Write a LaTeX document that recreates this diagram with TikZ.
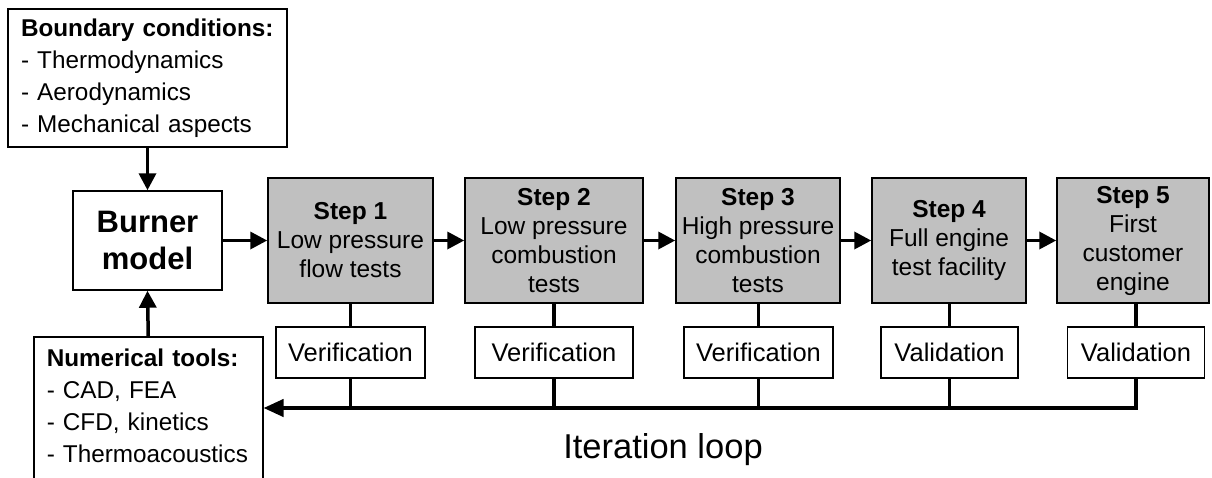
\documentclass[tikz,border=0pt]{standalone}
\usepackage{fontspec}
\setmainfont{Liberation Sans}
\usetikzlibrary{arrows.meta}
\definecolor{stepgray}{RGB}{192,192,192}
\begin{document}
\begin{tikzpicture}[x=1pt,y=-1pt,
  box/.style={draw, line width=1.5pt, inner sep=0pt, align=center},
  stepbox/.style={box, fill=stepgray, minimum height=125pt, font=\fontsize{24.5}{29}\selectfont},
  checkbox/.style={box, fill=white, minimum height=51pt, font=\fontsize{25.5}{29}\selectfont},
  listbox/.style={box, align=left, inner xsep=13pt, font=\fontsize{24.3}{32}\selectfont},
  arr/.style={line width=3.5pt, -{Triangle[length=17pt,width=17pt]}},
  link/.style={line width=3.5pt},
  looparr/.style={line width=4pt, miter limit=10, -{Triangle[length=20pt,width=17pt]}},
]
\clip (0,0) rectangle (1212,477);
\fill[white] (0,0) rectangle (1212,477);

\node[listbox, minimum width=279pt, minimum height=138pt, text width=253pt] (bc) at (147.5,78)
  {\textbf{Boundary conditions:}\\- Thermodynamics\\- Aerodynamics\\- Mechanical aspects};

\node[box, minimum width=149pt, minimum height=99pt, font=\fontsize{31}{37}\selectfont\bfseries] (bm) at (147.5,240.5) {Burner\\model};

\node[stepbox, minimum width=165pt] (s1) at (350.5,240.5) {\textbf{Step 1}\\Low pressure\\flow tests};
\node[stepbox, minimum width=178pt] (s2) at (554,240.5) {\textbf{Step 2}\\Low pressure\\combustion\\tests};
\node[stepbox, minimum width=164pt] (s3) at (758,240.5) {\textbf{Step 3}\\High pressure\\combustion\\tests};
\node[stepbox, minimum width=154pt] (s4) at (949,240.5) {\textbf{Step 4}\\Full engine\\test facility};
\node[stepbox, minimum width=152pt] (s5) at (1133,240.5) {\textbf{Step 5}\\First\\customer\\engine};

\node[checkbox, minimum width=149pt] (v1) at (350.5,352.5) {Verification};
\node[checkbox, minimum width=158pt] (v2) at (554,352.5) {Verification};
\node[checkbox, minimum width=149pt] (v3) at (758.5,352.5) {Verification};
\node[checkbox, minimum width=137pt] (v4) at (949.5,352.5) {Validation};
\node[checkbox, minimum width=137pt] (v5) at (1136,352.5) {Validation};

\node[listbox, anchor=north west, text width=203pt, inner ysep=12pt] (nt) at (33,336)
  {\textbf{Numerical tools:}\\- CAD, FEA\\- CFD, kinetics\\- Thermoacoustics\\ \strut};

\node[font=\fontsize{34.5}{40}\selectfont, anchor=base] (il) at (663,458) {Iteration loop};

\draw[arr] (bc.south) -- (bm.north);
\draw[arr] (nt.north) -- (bm.south);
\draw[arr] (bm.east) -- (s1.west);
\draw[arr] (s1.east) -- (s2.west);
\draw[arr] (s2.east) -- (s3.west);
\draw[arr] (s3.east) -- (s4.west);
\draw[arr] (s4.east) -- (s5.west);

\foreach \i in {1,...,5} {
  \draw[link] (v\i.north |- s\i.south) -- (v\i.north);
}
\coordinate (lp) at (0,408);
\foreach \i in {1,...,4} {
  \draw[link] (v\i.south) -- (v\i.south |- lp);
}
\draw[looparr] (v5.south) |- (lp -| nt.east);
\end{tikzpicture}
\end{document}
